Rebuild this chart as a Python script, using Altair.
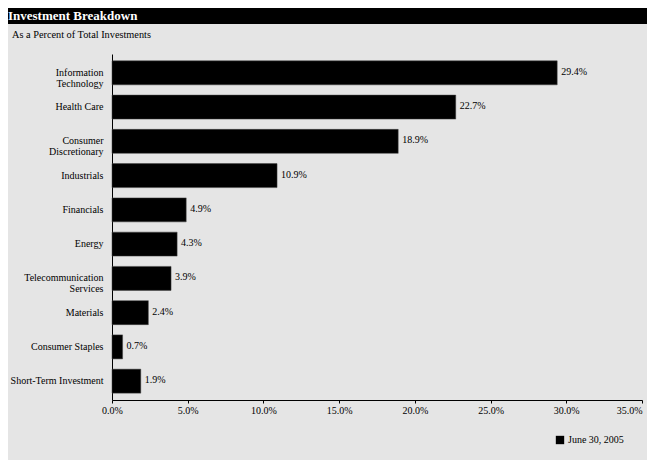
import altair as alt
import pandas as pd

categories = [
    "Information|Technology",
    "Health Care",
    "Consumer|Discretionary",
    "Industrials",
    "Financials",
    "Energy",
    "Telecommunication|Services",
    "Materials",
    "Consumer Staples",
    "Short-Term Investment",
]
values = [29.4, 22.7, 18.9, 10.9, 4.9, 4.3, 3.9, 2.4, 0.7, 1.9]
series_name = "June 30, 2005"
x_ticks = [0, 5, 10, 15, 20, 25, 30, 35]

df = pd.DataFrame({"category": categories, "value": values, "series": series_name})
df["label"] = df["value"].map(lambda v: f"{v:.1f}%")

FONT = "Liberation Serif, Times New Roman, serif"

y_enc = alt.Y(
    "category:N",
    sort=categories,
    scale=alt.Scale(paddingInner=0.3, paddingOuter=0.2),
    axis=alt.Axis(
        title=None,
        labelExpr="split(datum.value, '|')",
        labelFont=FONT,
        labelFontSize=10,
        labelColor="black",
        labelLineHeight=11,
        labelPadding=9,
        ticks=False,
        domainColor="black",
        domainWidth=1,
        grid=False,
    ),
)
x_enc = alt.X(
    "value:Q",
    scale=alt.Scale(domain=[0, 35], nice=False),
    axis=alt.Axis(
        title=None,
        values=x_ticks,
        labelExpr="format(datum.value, '.1f') + '%'",
        labelFont=FONT,
        labelFontSize=10,
        labelColor="black",
        labelPadding=2,
        labelFlush=False,
        labelOverlap=False,
        labelAlign={"condition": {"test": "datum.value >= 35", "value": "right"}, "value": "center"},
        tickSize=3,
        tickColor="black",
        domainColor="black",
        grid=False,
    ),
)

bars = alt.Chart(df).mark_bar(stroke="#444", strokeWidth=0.5).encode(
    y=y_enc,
    x=x_enc,
    color=alt.Color(
        "series:N",
        scale=alt.Scale(range=["black"]),
        legend=alt.Legend(
            title=None,
            orient="none",
            legendX=443,
            legendY=381,
            symbolType="square",
            symbolSize=70,
            symbolFillColor="black",
            symbolStrokeWidth=0,
            labelFont=FONT,
            labelFontSize=10,
            labelColor="black",
            labelOffset=3,
        ),
    ),
)

labels = alt.Chart(df).mark_text(
    align="left", baseline="middle", dx=4, dy=-1, font=FONT, fontSize=10, color="black"
).encode(y=alt.Y("category:N", sort=categories), x="value:Q", text="label:N")

one = alt.Data(values=[{"a": 1}])

title_bar = alt.Chart(one).mark_rect(color="black").encode(
    x=alt.value(-104), x2=alt.value(540), y=alt.value(-46), y2=alt.value(-30)
)
title_text = alt.Chart(one).mark_text(
    align="left", baseline="middle", font=FONT, fontSize=13, fontWeight="bold", color="white"
).encode(x=alt.value(-104), y=alt.value(-38), text=alt.value("Investment Breakdown"))
subtitle = alt.Chart(one).mark_text(
    align="left", baseline="middle", font=FONT, fontSize=10.3, color="black"
).encode(x=alt.value(-100), y=alt.value(-19), text=alt.value("As a Percent of Total Investments"))

chart = (
    alt.layer(bars, labels, title_bar, title_text, subtitle)
    .properties(
        width=530,
        height=346,
        autosize=alt.AutoSizeParams(type="none"),
        padding={"left": 104, "top": 46, "right": 5, "bottom": 60},
        background="#e5e5e5",
    )
    .configure_view(strokeWidth=0)
)

chart.save("out.html", embed_options={"renderer": "svg", "actions": False})
